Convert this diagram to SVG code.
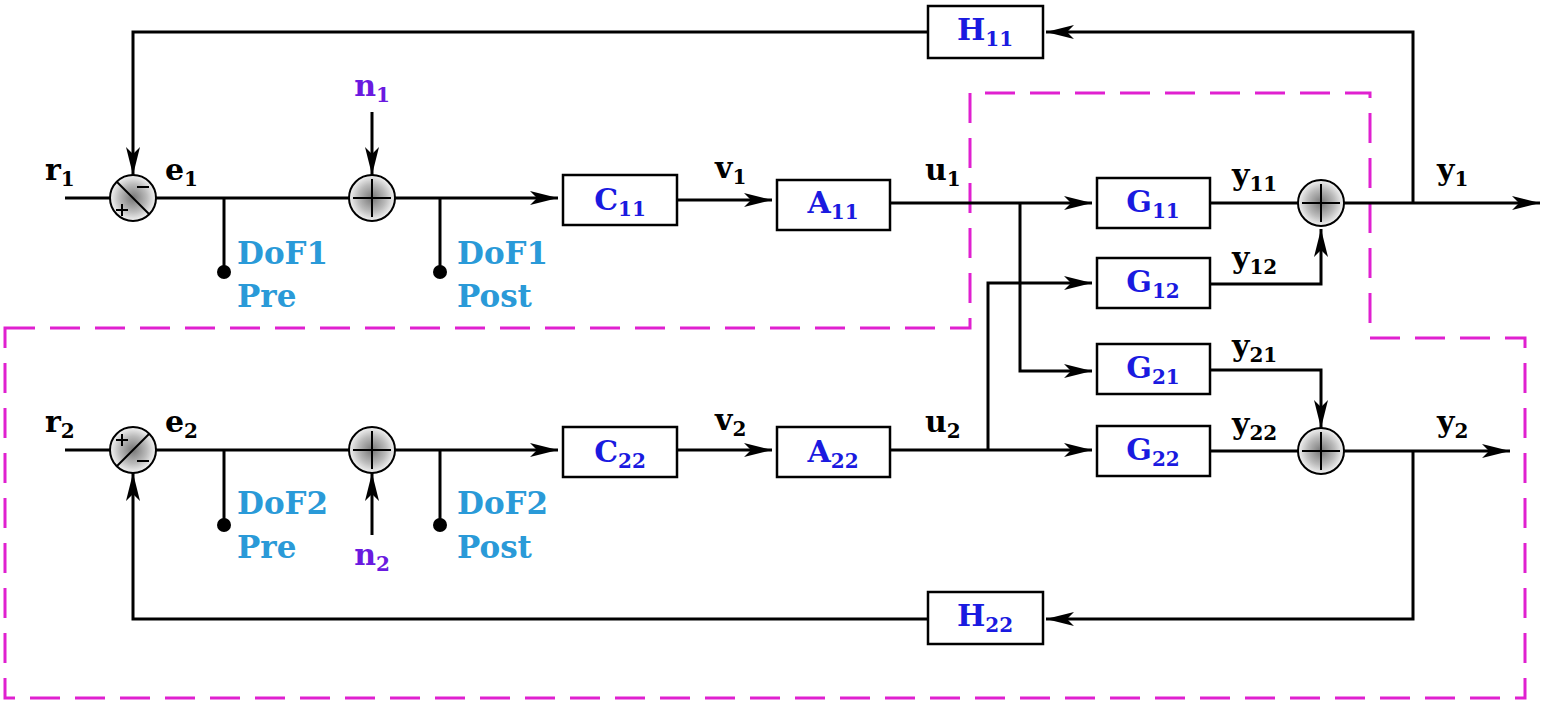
<svg xmlns="http://www.w3.org/2000/svg" width="1550" height="707" viewBox="0 0 1550 707">
<defs>
<marker id="ar" markerWidth="30" markerHeight="14" refX="28" refY="7" orient="auto" markerUnits="userSpaceOnUse"><path d="M0,0 L28,7 L0,14 L7,7 Z" fill="#000"/></marker>
<radialGradient id="sg" cx="0.5" cy="0.5" r="0.5"><stop offset="0" stop-color="#777"/><stop offset="0.6" stop-color="#bbb"/><stop offset="1" stop-color="#f4f4f4"/></radialGradient>
</defs>
<style>
.w{fill:none;stroke:#000;stroke-width:3}
.bx{fill:#fff;stroke:#000;stroke-width:2.5}
.bl{font-family:"DejaVu Serif",serif;font-weight:bold;font-size:30px;fill:#1a1ae0;text-anchor:middle}
.lb{font-family:"DejaVu Serif",serif;font-weight:bold;font-size:30px;fill:#000}
.df{font-family:"DejaVu Serif",serif;font-weight:bold;font-size:31px;fill:#2a9ad8}
.np{font-family:"DejaVu Serif",serif;font-weight:bold;font-size:30px;fill:#6a1ae0;text-anchor:middle}
.s{font-size:20px}
.sm{fill:url(#sg);stroke:#000;stroke-width:2}
.cr{stroke:#000;stroke-width:2;fill:none}
</style>
<path d="M5,328 H970 V93 H1370 V338 H1525 V698 H5 Z" fill="none" stroke="#e020d0" stroke-width="3" stroke-dasharray="30,15"/>
<g id="connectors">
<path class="w" d="M65,198 H110"/>
<path class="w" d="M156,198 H349"/>
<path class="w" d="M395,198 H558" marker-end="url(#ar)"/>
<path class="w" d="M677,200 H772" marker-end="url(#ar)"/>
<path class="w" d="M890,203 H1092" marker-end="url(#ar)"/>
<path class="w" d="M1020,203 V371 H1092" marker-end="url(#ar)"/>
<path class="w" d="M1210,203 H1298"/>
<path class="w" d="M1210,284 H1321 V229" marker-end="url(#ar)"/>
<path class="w" d="M1344,203 H1540" marker-end="url(#ar)"/>
<path class="w" d="M1413,203 V32 H1046" marker-end="url(#ar)"/>
<path class="w" d="M928,32 H133 V175" marker-end="url(#ar)"/>
<path class="w" d="M372,112 V175" marker-end="url(#ar)"/>
<path class="w" d="M224,198 V272"/><circle cx="224" cy="272" r="7"/>
<path class="w" d="M440,198 V272"/><circle cx="440" cy="272" r="7"/>
<path class="w" d="M65,450 H110"/>
<path class="w" d="M156,450 H349"/>
<path class="w" d="M395,450 H558" marker-end="url(#ar)"/>
<path class="w" d="M677,450 H772" marker-end="url(#ar)"/>
<path class="w" d="M890,450 H1092" marker-end="url(#ar)"/>
<path class="w" d="M988,450 V283 H1092" marker-end="url(#ar)"/>
<path class="w" d="M1210,370 H1321 V428" marker-end="url(#ar)"/>
<path class="w" d="M1210,451 H1298"/>
<path class="w" d="M1344,451 H1510" marker-end="url(#ar)"/>
<path class="w" d="M1413,451 V619 H1046" marker-end="url(#ar)"/>
<path class="w" d="M928,619 H133 V473" marker-end="url(#ar)"/>
<path class="w" d="M372,535 V473" marker-end="url(#ar)"/>
<path class="w" d="M224,450 V525"/><circle cx="224" cy="525" r="7"/>
<path class="w" d="M440,450 V525"/><circle cx="440" cy="525" r="7"/>
</g>
<g id="sum1"><circle class="sm" cx="133" cy="198" r="23"/><path class="cr" d="M117,182 L149,214"/><path class="cr" d="M137,187 H149 M116,210 H128 M122,204 V216"/></g>
<g id="sumn1"><circle class="sm" cx="372" cy="198" r="23"/><path class="cr" d="M353,198 H391 M372,179 V217"/></g>
<g id="sumy1"><circle class="sm" cx="1321" cy="203" r="23"/><path class="cr" d="M1302,203 H1340 M1321,184 V222"/></g>
<g id="sum2"><circle class="sm" cx="133" cy="450" r="23"/><path class="cr" d="M149,434 L117,466"/><path class="cr" d="M116,440 H128 M122,434 V446 M137,461 H149"/></g>
<g id="sumn2"><circle class="sm" cx="372" cy="450" r="23"/><path class="cr" d="M353,450 H391 M372,431 V469"/></g>
<g id="sumy2"><circle class="sm" cx="1321" cy="451" r="23"/><path class="cr" d="M1302,451 H1340 M1321,432 V470"/></g>
<g id="C11"><rect class="bx" x="563" y="175" width="114" height="50"/><text class="bl" x="620" y="210">C<tspan class="s" dy="6">11</tspan></text></g>
<g id="A11"><rect class="bx" x="777" y="180" width="113" height="50"/><text class="bl" x="833" y="213">A<tspan class="s" dy="6">11</tspan></text></g>
<g id="C22"><rect class="bx" x="563" y="427" width="114" height="50"/><text class="bl" x="620" y="462">C<tspan class="s" dy="6">22</tspan></text></g>
<g id="A22"><rect class="bx" x="777" y="427" width="113" height="50"/><text class="bl" x="833" y="462">A<tspan class="s" dy="6">22</tspan></text></g>
<g id="G11"><rect class="bx" x="1097" y="178" width="113" height="50"/><text class="bl" x="1153" y="212">G<tspan class="s" dy="6">11</tspan></text></g>
<g id="G12"><rect class="bx" x="1097" y="258" width="113" height="50"/><text class="bl" x="1153" y="292">G<tspan class="s" dy="6">12</tspan></text></g>
<g id="G21"><rect class="bx" x="1097" y="344" width="113" height="50"/><text class="bl" x="1153" y="378">G<tspan class="s" dy="6">21</tspan></text></g>
<g id="G22"><rect class="bx" x="1097" y="426" width="113" height="50"/><text class="bl" x="1153" y="460">G<tspan class="s" dy="6">22</tspan></text></g>
<g id="H11"><rect class="bx" x="928" y="6" width="115" height="52"/><text class="bl" x="985" y="40">H<tspan class="s" dy="6">11</tspan></text></g>
<g id="H22"><rect class="bx" x="928" y="592" width="115" height="52"/><text class="bl" x="985" y="626">H<tspan class="s" dy="6">22</tspan></text></g>
<g id="labels">
<text class="lb" x="45" y="180">r<tspan class="s" dy="6">1</tspan></text>
<text class="lb" x="165" y="180">e<tspan class="s" dy="6">1</tspan></text>
<text class="lb" x="715" y="178">v<tspan class="s" dy="6">1</tspan></text>
<text class="lb" x="925" y="180">u<tspan class="s" dy="6">1</tspan></text>
<text class="lb" x="1232" y="185">y<tspan class="s" dy="6">11</tspan></text>
<text class="lb" x="1232" y="268">y<tspan class="s" dy="6">12</tspan></text>
<text class="lb" x="1232" y="356">y<tspan class="s" dy="6">21</tspan></text>
<text class="lb" x="1232" y="434">y<tspan class="s" dy="6">22</tspan></text>
<text class="lb" x="1437" y="180">y<tspan class="s" dy="6">1</tspan></text>
<text class="lb" x="1437" y="432">y<tspan class="s" dy="6">2</tspan></text>
<text class="lb" x="45" y="432">r<tspan class="s" dy="6">2</tspan></text>
<text class="lb" x="165" y="432">e<tspan class="s" dy="6">2</tspan></text>
<text class="lb" x="715" y="430">v<tspan class="s" dy="6">2</tspan></text>
<text class="lb" x="925" y="432">u<tspan class="s" dy="6">2</tspan></text>
<text class="np" x="372" y="96">n<tspan class="s" dy="6">1</tspan></text>
<text class="np" x="372" y="565">n<tspan class="s" dy="6">2</tspan></text>
<text class="df" x="237" y="264">DoF1</text><text class="df" x="237" y="307">Pre</text>
<text class="df" x="457" y="264">DoF1</text><text class="df" x="457" y="307">Post</text>
<text class="df" x="237" y="514">DoF2</text><text class="df" x="237" y="558">Pre</text>
<text class="df" x="457" y="514">DoF2</text><text class="df" x="457" y="558">Post</text>
</g>
</svg>
